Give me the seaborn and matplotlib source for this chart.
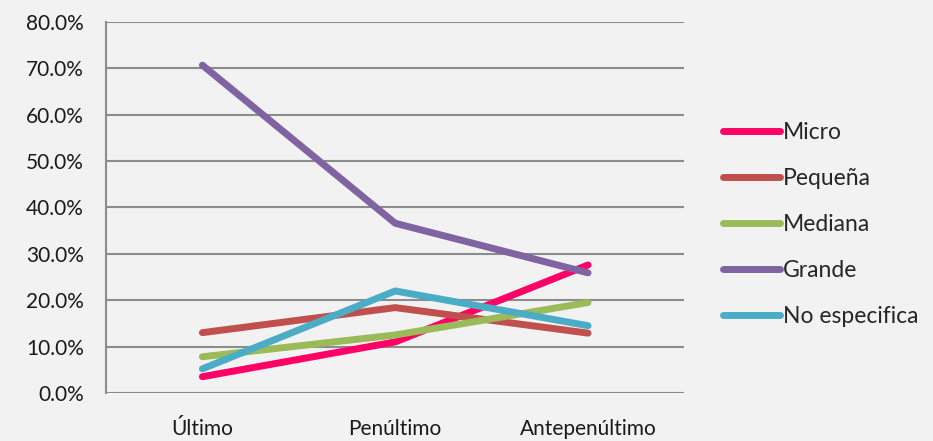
import seaborn as sns
import numpy as np
import pandas as pd
import matplotlib.pyplot as plt
from matplotlib.ticker import FuncFormatter

periodos = ['Último', 'Penúltimo', 'Antepenúltimo']
micro = [3.5, 11.0, 27.6]
pequena = [13.0, 18.4, 12.9]
mediana = [7.8, 12.5, 19.5]
grande = [70.7, 36.6, 25.9]
no_especifica = [5.2, 22.0, 14.5]

series = ['Micro', 'Pequeña', 'Mediana', 'Grande', 'No especifica']
colores = ['#FF0066', '#C0504D', '#9BBB59', '#8064A2', '#4BACC6']

df = pd.DataFrame({
    'periodo': periodos * 5,
    'valor': micro + pequena + mediana + grande + no_especifica,
    'tamano': [s for s in series for _ in periodos],
})

sns.set_style('white')
plt.rcParams['font.family'] = ['Lato', 'DejaVu Sans']

fig = plt.figure(figsize=(9.33, 4.41), dpi=100)
fig.patch.set_facecolor('#F2F2F2')
ax = fig.add_axes([0.1136, 0.109, 0.62, 0.841])
ax.set_facecolor('#F2F2F2')

sns.lineplot(data=df, x='periodo', y='valor', hue='tamano', hue_order=series,
             palette=colores, linewidth=5, sort=False, ax=ax,
             solid_capstyle='round')

ax.set_xlim(-0.5, 2.5)
ax.set_ylim(0, 80)
ax.set_yticks(np.arange(0, 81, 10))
ax.yaxis.set_major_formatter(FuncFormatter(lambda v, p: f'{v:.1f}%'))
ax.grid(axis='y', color='#8C8C8C', linewidth=1.5)
ax.set_axisbelow(True)
for s in ['top', 'right', 'bottom']:
    ax.spines[s].set_visible(False)
ax.spines['left'].set_color('#8C8C8C')
ax.spines['left'].set_linewidth(1.5)
ax.tick_params(axis='y', length=0, labelsize=15, pad=16, colors='#1a1a1a')
ax.tick_params(axis='x', length=0, labelsize=15, pad=19, colors='#1a1a1a')
ax.set_xlabel('')
ax.set_ylabel('')

leg = ax.legend(loc='center left', bbox_to_anchor=(1.066, 0.455), frameon=False,
                fontsize=16.5, handlelength=2.5, handletextpad=0.12,
                labelspacing=1.09, borderpad=0, borderaxespad=0)
for h in leg.get_lines():
    h.set_linewidth(5)
    h.set_solid_capstyle('round')

fig.savefig('out.png', dpi=100, facecolor=fig.get_facecolor())
